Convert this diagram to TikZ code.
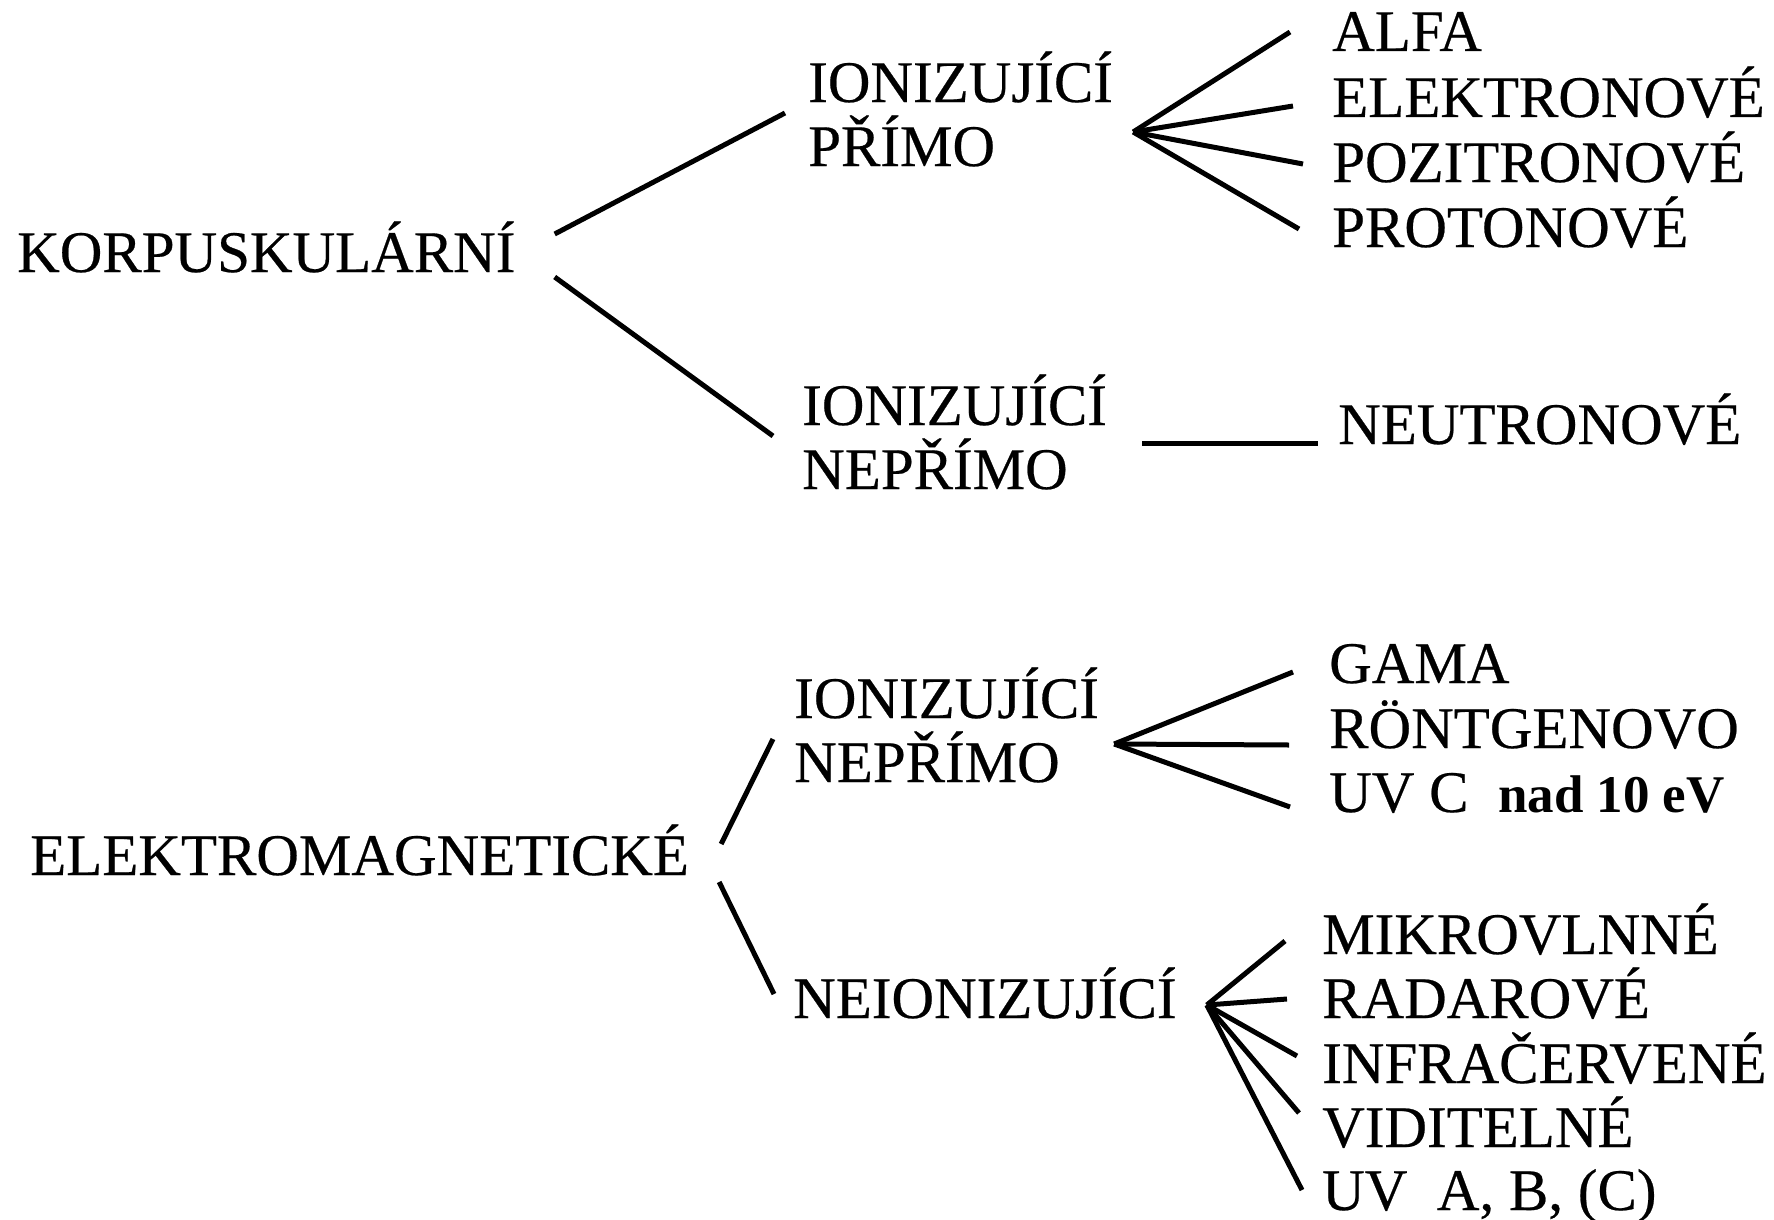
\documentclass[tikz,border=0pt]{standalone}
\usepackage{fontspec}
\setmainfont{Liberation Serif}[UprightFeatures={FakeBold=0.4}]
\usepackage{tikz}
\usetikzlibrary{positioning,calc}
\newcommand{\bigtxt}{\fontsize{59}{64}\selectfont}

\begin{document}
\begin{tikzpicture}[x=1pt,y=-1pt,
  txt/.style={font=\bigtxt,inner sep=0pt,anchor=base west,align=left},
  link/.style={line width=5pt}
]
\useasboundingbox (0,0) rectangle (1774,1220);
% Korpuskularni
\node[txt] (korp) at (17,272) {KORPUSKULÁRNÍ};
\node[txt] (ip) at (808,166) {IONIZUJÍCÍ\\PŘÍMO};
\node[txt] (inA) at (802,489) {IONIZUJÍCÍ\\NEPŘÍMO};
\node[txt] (alfa) at (1332,51) {ALFA};
\node[txt] (elektron) at (1332,117) {ELEKTRONOVÉ};
\node[txt] (pozitron) at (1332,182) {POZITRONOVÉ};
\node[txt] (proton) at (1332,247) {PROTONOVÉ};
\node[txt] (neutron) at (1338,444) {NEUTRONOVÉ};
% Elektromagneticke
\node[txt] (elmag) at (30,875) {ELEKTROMAGNETICKÉ};
\node[txt] (inB) at (794,782) {IONIZUJÍCÍ\\NEPŘÍMO};
\node[txt] (neion) at (793,1018) {NEIONIZUJÍCÍ};
\node[txt] (gama) at (1329,683) {GAMA};
\node[txt] (rtg) at (1329,748) {RÖNTGENOVO};
\node[txt] (uvc) at (1329,812) {UV C\ \ {\fontsize{53}{64}\selectfont\bfseries nad\ 10\ eV}};
\node[txt] (mikro) at (1322,954) {MIKROVLNNÉ};
\node[txt] (radar) at (1322,1018) {RADAROVÉ};
\node[txt] (infra) at (1322,1083) {INFRAČERVENÉ};
\node[txt] (vidit) at (1322,1147) {VIDITELNÉ};
\node[txt] (uvab) at (1322,1210) {UV\ \ A, B, (C)};
% Branches
\draw[link] ([xshift=39pt,yshift=38pt]korp.base east) -- ([xshift=-23pt,yshift=53pt]ip.base west);
\draw[link] ([xshift=39pt,yshift=-5pt]korp.base east) -- ([xshift=-29pt,yshift=53pt]inA.base west);
\draw[link] ([xshift=32pt,yshift=31pt]elmag.base east) -- ([xshift=-21pt,yshift=43pt]inB.base west);
\draw[link] ([xshift=30pt,yshift=-7pt]elmag.base east) -- ([xshift=-19pt,yshift=24pt]neion.base west);
\draw[link] ([xshift=35pt,yshift=46pt]inA.base east) -- ([xshift=-20pt,yshift=1pt]neutron.base west);
% Fans
\coordinate (hubP) at ([xshift=20pt,yshift=34pt]ip.base east);
\coordinate (hubB) at ([xshift=15pt,yshift=38pt]inB.base east);
\coordinate (hubN) at ([xshift=30pt,yshift=13pt]neion.base east);
\foreach \n/\dx/\dy in {alfa/42/19,elektron/39/11,pozitron/29/18,proton/33/18}
  \draw[link] (hubP) -- ([xshift=-\dx pt,yshift=\dy pt]\n.base west);
\foreach \n/\dx/\dy in {gama/36/11,rtg/40/3,uvc/39/5}
  \draw[link] (hubB) -- ([xshift=-\dx pt,yshift=\dy pt]\n.base west);
\foreach \n/\dx/\dy in {mikro/37/13,radar/35/19,infra/25/27,vidit/23/34,uvab/20/20}
  \draw[link] (hubN) -- ([xshift=-\dx pt,yshift=\dy pt]\n.base west);
\end{tikzpicture}
\end{document}
